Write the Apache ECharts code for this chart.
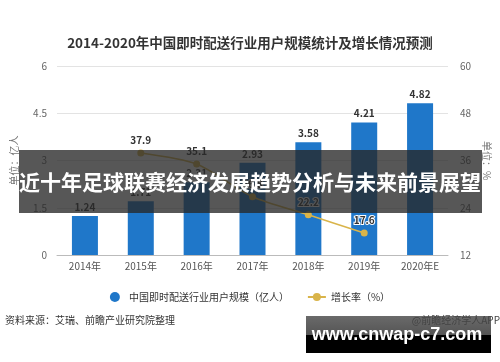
<!DOCTYPE html>
<html><head><meta charset="utf-8">
<script src="https://cdn.jsdelivr.net/npm/echarts@6/dist/echarts.min.js"></script>
<style>html,body{margin:0;padding:0;background:#fff}#c{width:500px;height:362px}</style>
</head><body><div id="c"></div>
<script>
var categories = ['2014年','2015年','2016年','2017年','2018年','2019年','2020年E'];
var userScale = [1.24, 1.71, 2.31, 2.93, 3.58, 4.21, 4.82];
var growthRate = [null, 37.9, 35.1, 26.8, 22.2, 17.6, null];
var leftTicks = {min: 0, max: 6, interval: 1.5};
var rightTicks = {min: 12, max: 60, interval: 12};
var titleText = '2014-2020年中国即时配送行业用户规模统计及增长情况预测';
var bannerText = '近十年足球联赛经济发展趋势分析与未来前景展望';
var sourceText = '资料来源：艾瑞、前瞻产业研究院整理';
var brandText = '@前瞻经济学人APP';
var siteText = 'www.cnwap-c7.com';
var FONT = '"Noto Sans CJK SC", "Microsoft YaHei", sans-serif';

var chart = echarts.init(document.getElementById('c'));
chart.setOption({
  backgroundColor: '#fff',
  animation: false,
  textStyle: {fontFamily: FONT},
  title: {text: titleText, left: 'center', top: 31,
    textStyle: {fontSize: 13.5, fontWeight: 'bold', color: '#333', fontFamily: FONT}},
  grid: {left: 57, right: 48, top: 66, bottom: 107},
  legend: {top: 287, left: 'center', itemGap: 18, itemWidth: 18, itemHeight: 10,
    textStyle: {fontSize: 10, color: '#333', fontFamily: FONT},
    data: [{name: '中国即时配送行业用户规模（亿人）', icon: 'circle'}, {name: '增长率（%）'}]},
  xAxis: {type: 'category', data: categories,
    axisLine: {lineStyle: {color: '#bbb'}},
    axisTick: {show: false},
    axisLabel: {color: '#555', fontSize: 10, margin: 6}},
  yAxis: [
    {type: 'value', min: leftTicks.min, max: leftTicks.max, interval: leftTicks.interval,
     name: '单位：亿人', nameLocation: 'middle', nameGap: 38, nameRotate: 90,
     nameTextStyle: {color: '#777', fontSize: 10},
     axisLine: {show: false}, axisTick: {show: false},
     axisLabel: {color: '#666', fontSize: 10, margin: 10},
     splitLine: {lineStyle: {color: '#e3e3e3'}}},
    {type: 'value', min: rightTicks.min, max: rightTicks.max, interval: rightTicks.interval,
     name: '单位：%', nameLocation: 'middle', nameGap: 30, nameRotate: -90,
     nameTextStyle: {color: '#777', fontSize: 10},
     axisLine: {show: false}, axisTick: {show: false},
     axisLabel: {color: '#666', fontSize: 10, margin: 12},
     splitLine: {show: false}}
  ],
  series: [
    {name: '中国即时配送行业用户规模（亿人）', type: 'bar', data: userScale, barWidth: 26,
     itemStyle: {color: '#1f77c9'},
     label: {show: true, position: 'top', distance: 4, color: '#333', fontSize: 10, fontWeight: 'bold'}},
    {name: '增长率（%）', type: 'line', yAxisIndex: 1, data: growthRate, smooth: 0.25,
     symbol: 'circle', symbolSize: 7, connectNulls: false,
     lineStyle: {color: '#d9b44a', width: 1.5},
     itemStyle: {color: '#d9b44a'},
     label: {show: true, position: 'top', distance: 4, color: '#333', fontSize: 10, fontWeight: 'bold',
       textBorderColor: '#fff', textBorderWidth: 2}}
  ],
  graphic: [
    {type: 'rect', shape: {x: 19, y: 150, width: 463, height: 63},
     style: {fill: 'rgba(40,40,40,0.78)'}, z: 100},
    {type: 'text', x: 250, y: 182, z: 101,
     style: {text: bannerText, fill: '#fff', font: 'bold 21px ' + FONT, align: 'center', verticalAlign: 'middle'}},
    {type: 'text', x: 5, y: 320, z: 50,
     style: {text: sourceText, fill: '#333', font: '10px ' + FONT, align: 'left', verticalAlign: 'middle'}},
    {type: 'rect', shape: {x: 306, y: 316, width: 185, height: 37},
     style: {fill: new echarts.graphic.LinearGradient(0, 0, 0, 1, [
       {offset: 0, color: '#6a6a6a'}, {offset: 0.5, color: '#555'}, {offset: 0.52, color: '#000'}, {offset: 1, color: '#000'}])}, z: 100},
    {type: 'text', x: 500, y: 320, z: 101,
     style: {text: brandText, fill: '#444', font: '10px ' + FONT, align: 'right', verticalAlign: 'middle'}},
    {type: 'text', x: 397, y: 335, z: 102,
     style: {text: siteText, fill: '#fff', font: 'bold 18px "Liberation Sans", sans-serif', align: 'center', verticalAlign: 'middle'}}
  ]
});
</script></body></html>
